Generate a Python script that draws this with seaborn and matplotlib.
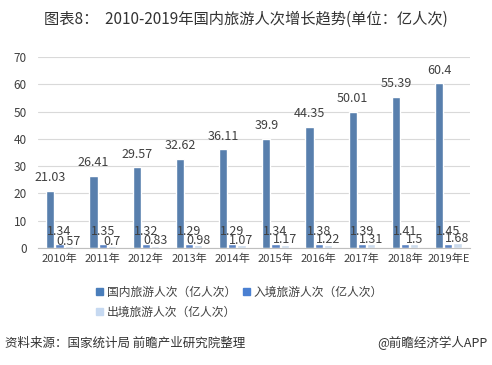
import pandas as pd
import numpy as np
import matplotlib
matplotlib.use('Agg')
import matplotlib.pyplot as plt
import seaborn as sns
from matplotlib.patches import Patch

years = ['2010年', '2011年', '2012年', '2013年', '2014年', '2015年', '2016年', '2017年', '2018年', '2019年E']
domestic = [21.03, 26.41, 29.57, 32.62, 36.11, 39.9, 44.35, 50.01, 55.39, 60.4]
inbound = [1.34, 1.35, 1.32, 1.29, 1.29, 1.34, 1.38, 1.39, 1.41, 1.45]
outbound = [0.57, 0.7, 0.83, 0.98, 1.07, 1.17, 1.22, 1.31, 1.5, 1.68]
series = ['国内旅游人次（亿人次）', '入境旅游人次（亿人次）', '出境旅游人次（亿人次）']
colors = ['#4a7ebb', '#4a80d2', '#c6d9f1']

sns.set_style('white')
plt.rcParams['font.family'] = ['Noto Sans CJK SC', 'DejaVu Sans']

df = pd.DataFrame({
    'year': years * 3,
    'value': domestic + inbound + outbound,
    'series': [series[0]] * 10 + [series[1]] * 10 + [series[2]] * 10,
})

fig = plt.figure(figsize=(4.92, 3.65), dpi=100)
ax = fig.add_axes([0.077, 0.3205, 0.878, 0.5233])
sns.barplot(data=df, x='year', y='value', hue='series', palette=colors,
            width=0.64, gap=0.1, ax=ax, legend=False, errorbar=None)

ax.set_ylim(0, 70)
ax.set_yticks(range(0, 71, 10))
ax.set_xlim(-0.5, 9.5)
ax.grid(axis='y', color='#d9d9d9', linewidth=0.8)
ax.set_axisbelow(True)
for s in ['top', 'right', 'left']:
    ax.spines[s].set_visible(False)
ax.spines['bottom'].set_color('#bfbfbf')
ax.tick_params(axis='y', length=0, labelsize=8.5, labelcolor='#404040', pad=8)
ax.tick_params(axis='x', length=0, labelsize=8, labelcolor='#404040', pad=4)
ax.set_xlabel('')
ax.set_ylabel('')

# value labels
offsets = [9.5, 9.0, 3.5]
for cont, off in zip(ax.containers, offsets):
    for bar in cont:
        h = bar.get_height()
        ax.annotate(f'{h:g}', (bar.get_x() + bar.get_width() / 2, h),
                    xytext=(0, off), textcoords='offset points',
                    ha='center', va='center', fontsize=9, color='#404040')

handles = [Patch(color=c) for c in colors]
fig.legend(handles[:2], series[:2], loc='center left', bbox_to_anchor=(0.195, 0.2), ncol=2,
           frameon=False, fontsize=8.5, handlelength=0.6, handleheight=0.6,
           handletextpad=0.3, columnspacing=0.6, labelcolor='#404040',
           borderaxespad=0, borderpad=0)
fig.legend(handles[2:], series[2:], loc='center left', bbox_to_anchor=(0.195, 0.145),
           frameon=False, fontsize=8.5, handlelength=0.6, handleheight=0.6,
           handletextpad=0.3, labelcolor='#404040', borderaxespad=0, borderpad=0)

fig.text(0.5, 0.948, '图表8：  2010-2019年国内旅游人次增长趋势(单位：亿人次)',
         ha='center', va='center', fontsize=11, color='#333333')
fig.text(0.01, 0.06, '资料来源：国家统计局 前瞻产业研究院整理', ha='left', va='center',
         fontsize=9, style='italic', color='#333333')
fig.text(0.99, 0.06, '@前瞻经济学人APP', ha='right', va='center',
         fontsize=9, color='#333333')

plt.savefig('out.png', dpi=100)
plt.close()
